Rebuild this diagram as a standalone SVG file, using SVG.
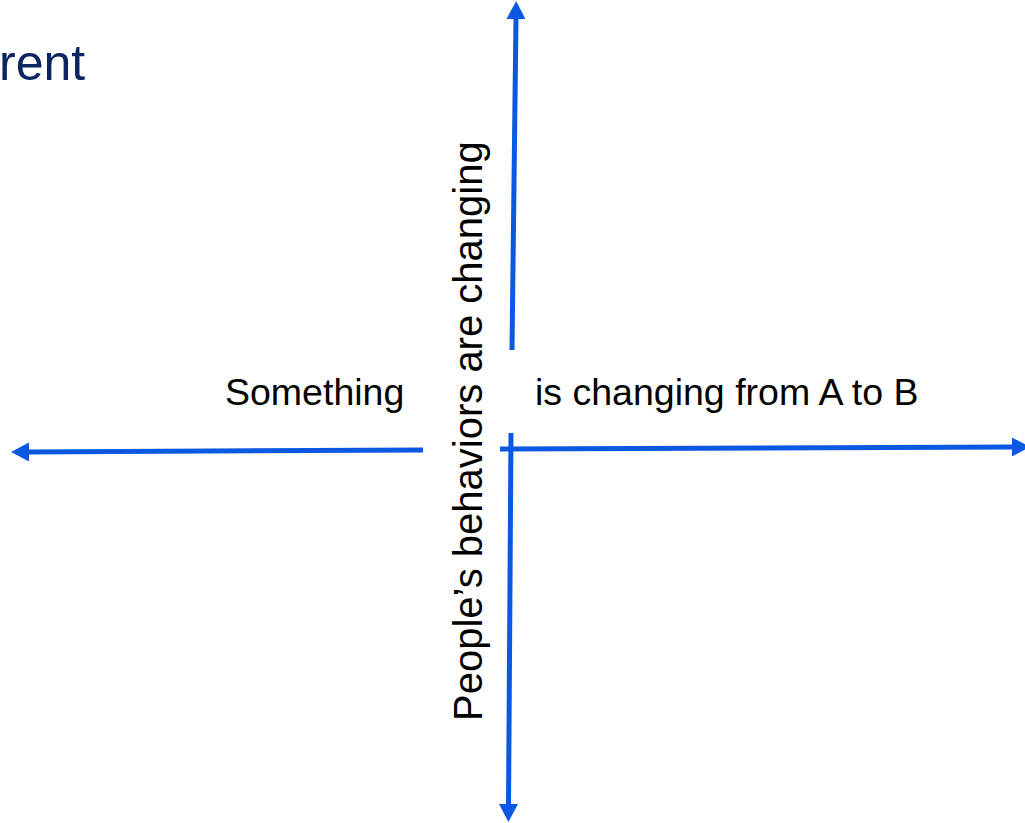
<svg xmlns="http://www.w3.org/2000/svg" width="1025" height="823" viewBox="0 0 1025 823">
  <style>
    .axis { stroke: #0B58E2; stroke-width: 5; fill: none; marker-end: url(#head); }
    .lbl { font-family: "Liberation Sans", Arial, sans-serif; fill: #000000; }
    .title { font-family: "Liberation Sans", Arial, sans-serif; fill: #0C2461; }
  </style>
  <defs>
    <marker id="head" markerUnits="userSpaceOnUse" markerWidth="18" markerHeight="19" viewBox="0 0 18 19" refX="2" refY="9.5" orient="auto">
      <path d="M0,0 L18,9.5 L0,19 z" fill="#0B58E2"/>
    </marker>
  </defs>
  <g id="title">
    <text class="title" x="-1" y="80" font-size="50">rent</text>
  </g>
  <g id="connectors">
    <line class="axis" x1="512" y1="350" x2="516" y2="17"/>
    <line class="axis" x1="511" y1="433" x2="508.5" y2="806"/>
    <line class="axis" x1="500" y1="449" x2="1014" y2="447"/>
    <line class="axis" x1="423" y1="450" x2="27" y2="452"/>
  </g>
  <g id="left-label">
    <text class="lbl" x="225" y="405" font-size="37.5">Something</text>
  </g>
  <g id="right-label">
    <text class="lbl" x="535" y="405" font-size="37.5">is changing from A to B</text>
  </g>
  <g id="vertical-label">
    <text class="lbl" font-size="40" transform="translate(482,721) rotate(-90)">People’s behaviors are changing</text>
  </g>
</svg>
